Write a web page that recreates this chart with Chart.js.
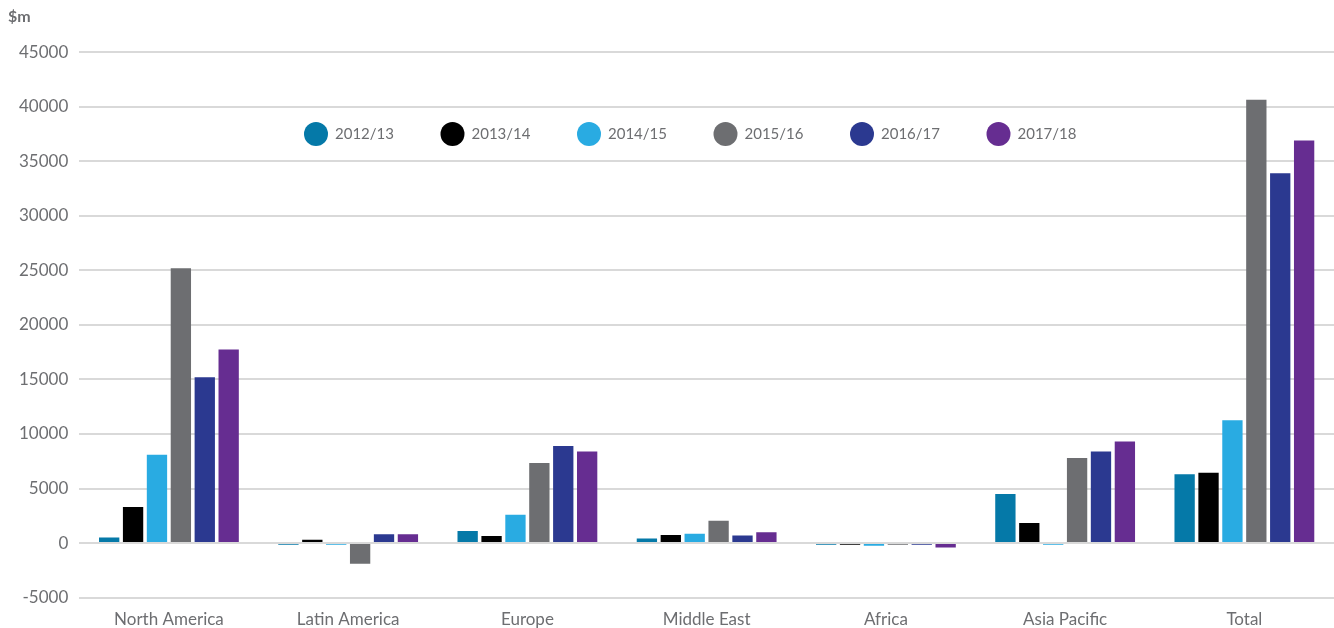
<!DOCTYPE html>
<html>
<head>
<meta charset="utf-8">
<script src="https://cdn.jsdelivr.net/npm/chart.js@4"></script>
<style>
  html, body { margin: 0; padding: 0; background: #fff; }
  #wrap { width: 1334px; height: 628px; position: relative; }
</style>
</head>
<body>
<div id="wrap"><canvas id="c"></canvas></div>
<script>
// Regional values, $m
const regions = ["North America", "Latin America", "Europe", "Middle East", "Africa", "Asia Pacific", "Total"];
const years   = ["2012/13", "2013/14", "2014/15", "2015/16", "2016/17", "2017/18"];
const colours = ["#0579a8", "#000000", "#29abe2", "#6d6e71", "#2b3990", "#662d91"];

const y2012 = [500, -150, 1100, 420, -150, 4500, 6300];
const y2013 = [3300, 300, 650, 750, -150, 1850, 6450];
const y2014 = [8100, -150, 2600, 850, -250, -150, 11250];
const y2015 = [25200, -1900, 7350, 2050, -150, 7800, 40650];
const y2016 = [15200, 800, 8900, 700, -150, 8400, 33900];
const y2017 = [17750, 800, 8400, 1000, -400, 9300, 36900];
const series = [y2012, y2013, y2014, y2015, y2016, y2017];

const yTicks = { min: -5000, max: 45000, step: 5000 };
const FONT = "Lato, 'Open Sans', sans-serif";
const grey = "#6d6e71";

// Legend is drawn inside the plot area, so a small plugin handles it
const insideLegend = {
  id: "insideLegend",
  afterDatasetsDraw(chart) {
    const ctx = chart.ctx;
    const startX = 316, y = 134, gap = 136.5;
    ctx.save();
    ctx.font = "15px " + FONT;
    ctx.textBaseline = "middle";
    chart.data.datasets.forEach((ds, i) => {
      const cx = startX + i * gap;
      ctx.beginPath();
      ctx.arc(cx, y, 12, 0, Math.PI * 2);
      ctx.fillStyle = ds.backgroundColor;
      ctx.fill();
      ctx.fillStyle = grey;
      ctx.fillText(ds.label, cx + 19, y);
    });
    ctx.restore();
  },
};

new Chart(document.getElementById("c"), {
  type: "bar",
  data: {
    labels: regions,
    datasets: years.map((yr, i) => ({
      label: yr,
      data: series[i],
      backgroundColor: colours[i],
      borderWidth: 0,
    })),
  },
  options: {
    responsive: true,
    maintainAspectRatio: false,
    animation: false,
    datasets: { bar: { categoryPercentage: 0.8, barPercentage: 0.85 } },
    layout: { padding: { left: 8, right: 0, top: 0, bottom: -6 } },
    plugins: {
      legend: { display: false },
      tooltip: { enabled: false },
      title: {
        display: true,
        text: "$m",
        align: "start",
        color: grey,
        font: { family: FONT, size: 16, weight: "bold" },
        padding: { top: 7, bottom: 26 },
      },
    },
    scales: {
      x: {
        grid: { display: false },
        border: { display: false },
        ticks: { color: grey, font: { family: FONT, size: 17 }, padding: 4 },
      },
      y: {
        min: yTicks.min,
        max: yTicks.max,
        ticks: {
          stepSize: yTicks.step,
          color: grey,
          font: { family: FONT, size: 17 },
          padding: 11,
          callback: (v) => String(v),
        },
        grid: { color: "#d9d9d9", lineWidth: 2, drawTicks: false },
        border: { display: false },
      },
    },
  },
  plugins: [insideLegend],
});
</script>
</body>
</html>
